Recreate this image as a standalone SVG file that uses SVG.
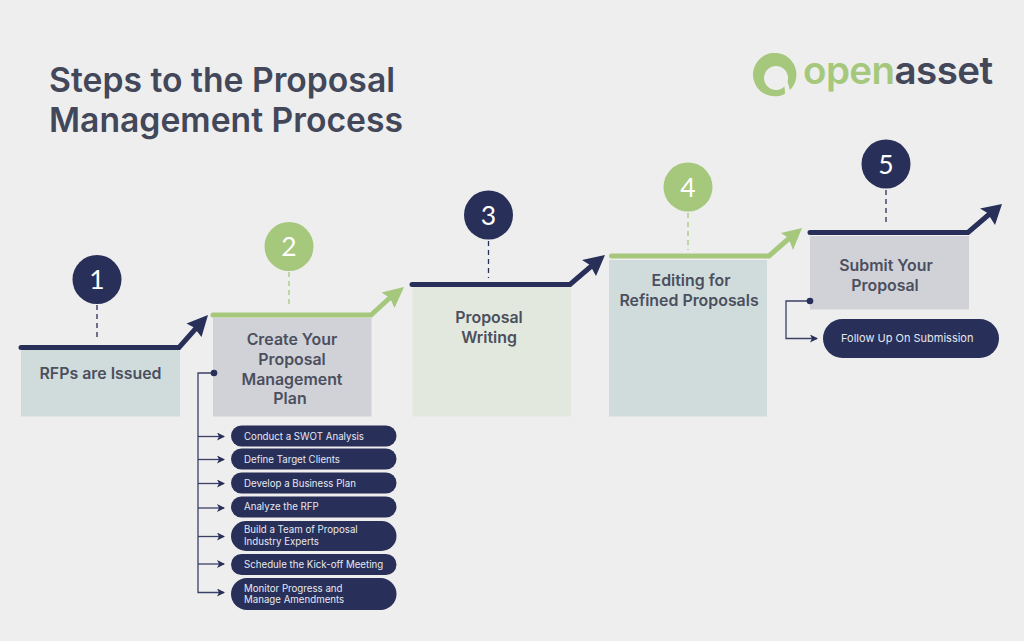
<svg xmlns="http://www.w3.org/2000/svg" width="1024" height="641" viewBox="0 0 1024 641">
<style>
text{font-family:"Inter","Liberation Sans",sans-serif}
.t{font-size:33.700px;font-weight:600;fill:#42475a}
.l{font-size:15.900px;font-weight:600;fill:#4b4f5e;text-anchor:middle}
.n{font-family:"Lato","Liberation Sans",sans-serif;font-size:26.500px;fill:#fff;text-anchor:middle;font-weight:400}
.p{font-size:9.700px;fill:#e6e8f0;font-weight:400}
.f{font-size:11px}
.pill{fill:#282f58}
.nv{stroke:#282f58;fill:none}
.gr{stroke:#a5c87c;fill:none}
.bar{stroke-width:5;stroke-linecap:round;stroke-linejoin:miter}
.dash{stroke-width:1.300;stroke-dasharray:5 4}
.tree{stroke:#3a4068;stroke-width:1.300;fill:none}
</style>
<defs>
<marker id="tip" markerUnits="userSpaceOnUse" markerWidth="10" markerHeight="10" refX="7" refY="4" orient="auto"><path d="M0 0L8 4L0 8L2 4Z" fill="#282f58"/></marker>
</defs>
<rect width="1024" height="641" fill="#eeeeee"/>
<g id="title"><text class="t" x="49" y="91.500">Steps to the Proposal</text><text class="t" x="49" y="131.500">Management Process</text></g>
<g id="logo">
<path fill="#a5c87c" d="M790 90A21.700 21.700 0 1 0 785 93.700L784.500 86.500A12 12 0 1 1 787.500 81.500Z"/>
<text x="803" y="84" font-size="38.500" font-weight="600" textLength="190"><tspan fill="#a5c87c">open</tspan><tspan fill="#42475a">asset</tspan></text>
</g>
<g id="connectors">
<path class="nv dash" d="M97 305V341"/>
<path class="gr dash" d="M289 272V308"/>
<path class="nv dash" d="M488.500 241V278"/>
<path class="gr dash" d="M688 213V250"/>
<path class="nv dash" d="M886 190V226"/>
<path class="tree" d="M211 373H198V592.500H224" marker-end="url(#tip)"/>
<path class="tree" d="M198 436.500H224" marker-end="url(#tip)"/>
<path class="tree" d="M198 459.500H224" marker-end="url(#tip)"/>
<path class="tree" d="M198 483.500H224" marker-end="url(#tip)"/>
<path class="tree" d="M198 508H224" marker-end="url(#tip)"/>
<path class="tree" d="M198 536.500H224" marker-end="url(#tip)"/>
<path class="tree" d="M198 564H224" marker-end="url(#tip)"/>
<path class="tree" d="M810 301H786V338.500H817" marker-end="url(#tip)"/>
</g>
<g id="step1"><rect x="21" y="350" width="159" height="66.500" fill="#d0dcdc"/>
<path class="nv bar" d="M21 347.500H179L198 326"/><path fill="#282f58" d="M208 315L186.500 323.500L194 327.500L201.500 337Z"/>
<circle cx="97" cy="279.500" r="24.500" fill="#282f58"/><text class="n" x="97" y="289">1</text>
<text class="l" x="100.500" y="379">RFPs are Issued</text></g>
<g id="step2"><rect x="213" y="318" width="158.500" height="98.500" fill="#d1d2d8"/>
<path class="gr bar" d="M213 315H371L393 295"/><path fill="#a5c87c" d="M404 287L381.500 292.500L390 298L394.500 308Z"/>
<circle cx="289" cy="246.500" r="24.500" fill="#a5c87c"/><text class="n" x="289" y="256">2</text>
<text class="l"><tspan x="292" y="345">Create Your</tspan><tspan x="292" y="365">Proposal</tspan><tspan x="292" y="384.500">Management</tspan><tspan x="290" y="404">Plan</tspan></text>
<circle cx="214" cy="373" r="3.300" fill="#282f58"/></g>
<g id="step3"><rect x="412.500" y="287" width="158.500" height="129.500" fill="#e2e8dd"/>
<path class="nv bar" d="M412 284.500H570L595 263"/><path fill="#282f58" d="M605 255L582 260L590 265L596 276Z"/>
<circle cx="488.500" cy="215" r="24.500" fill="#282f58"/><text class="n" x="488.500" y="224.500">3</text>
<text class="l"><tspan x="489" y="323">Proposal</tspan><tspan x="489" y="342.500">Writing</tspan></text></g>
<g id="step4"><rect x="609" y="260" width="158" height="156.500" fill="#d0dcdc"/>
<path class="gr bar" d="M611.500 256H769L793 235"/><path fill="#a5c87c" d="M802 228L781 233L788.500 238L793 250Z"/>
<circle cx="688" cy="187" r="24.500" fill="#a5c87c"/><text class="n" x="688" y="196.500">4</text>
<text class="l"><tspan x="691" y="286">Editing for</tspan><tspan x="689" y="305.500">Refined Proposals</tspan></text></g>
<g id="step5"><rect x="810" y="236" width="159" height="73.500" fill="#d1d2d8"/>
<path class="nv bar" d="M810 232.500H968L993 211"/><path fill="#282f58" d="M1002 204L980 208.500L987.500 213L995 225Z"/>
<circle cx="886" cy="164" r="24.500" fill="#282f58"/><text class="n" x="886" y="173.500">5</text>
<text class="l"><tspan x="886" y="271">Submit Your</tspan><tspan x="885" y="290.500">Proposal</tspan></text>
<circle cx="810" cy="301" r="3.300" fill="#282f58"/></g>
<g id="sub1"><rect class="pill" x="231" y="425.500" width="165.500" height="21" rx="10.500"/><text class="p" x="244" y="440">Conduct a SWOT Analysis</text></g>
<g id="sub2"><rect class="pill" x="231" y="448.500" width="165.500" height="21" rx="10.500"/><text class="p" x="244" y="463">Define Target Clients</text></g>
<g id="sub3"><rect class="pill" x="231" y="472.500" width="165.500" height="21" rx="10.500"/><text class="p" x="244" y="486.500">Develop a Business Plan</text></g>
<g id="sub4"><rect class="pill" x="231" y="496.500" width="165.500" height="21" rx="10.500"/><text class="p" x="244" y="510">Analyze the RFP</text></g>
<g id="sub5"><rect class="pill" x="231" y="521" width="165.500" height="30" rx="15"/><text class="p"><tspan x="244" y="533">Build a Team of Proposal</tspan><tspan x="244" y="544.500">Industry Experts</tspan></text></g>
<g id="sub6"><rect class="pill" x="231" y="554" width="165.500" height="21" rx="10.500"/><text class="p" x="244" y="567.500">Schedule the Kick-off Meeting</text></g>
<g id="sub7"><rect class="pill" x="231" y="578" width="165.500" height="32" rx="16"/><text class="p"><tspan x="244" y="591.500">Monitor Progress and</tspan><tspan x="244" y="603">Manage Amendments</tspan></text></g>
<g id="sub8"><rect class="pill" x="823" y="319" width="176" height="39" rx="19.500"/><text class="p f" x="841" y="342">Follow Up On Submission</text></g>
</svg>
